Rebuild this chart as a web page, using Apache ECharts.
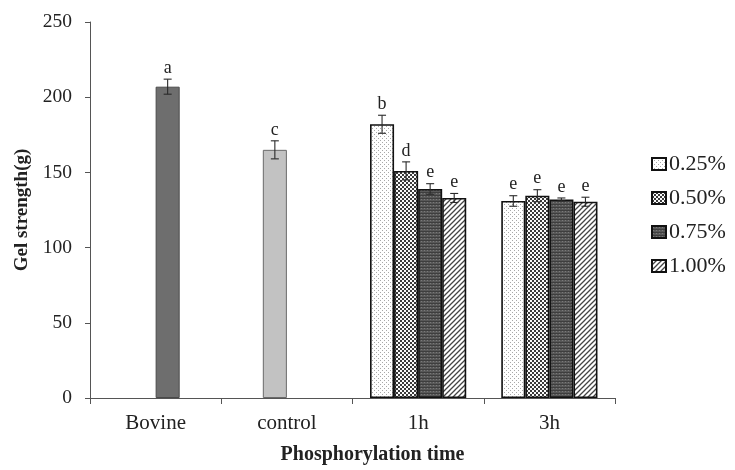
<!DOCTYPE html>
<html>
<head>
<meta charset="utf-8">
<script src="https://cdn.jsdelivr.net/npm/echarts@6/dist/echarts.min.js"></script>
<style>
  html, body { margin: 0; padding: 0; background: #fff; }
  #chart { width: 735px; height: 470px; }
</style>
</head>
<body>
<div id="chart"></div>
<script>
// Gel strength by phosphorylation time and phosphate concentration
const categories = ['Bovine', 'control', '1h', '3h'];
const seriesNames = ['0.25%', '0.50%', '0.75%', '1.00%'];

// mean gel strength (g) per concentration, one entry per category
const values025 = [null, null, 182, 131];
const values050 = [null, 165, 151, 134.5];
const values075 = [207, null, 139, 132];
const values100 = [null, null, 133, 130.5];

// standard deviations
const errors025 = [null, null, 6, 3.5];
const errors050 = [null, 6, 6, 4];
const errors075 = [5, null, 3.5, 1];
const errors100 = [null, null, 3, 3];

// significance letters
const letters025 = [null, null, 'b', 'e'];
const letters050 = [null, 'c', 'd', 'e'];
const letters075 = ['a', null, 'e', 'e'];
const letters100 = [null, null, 'e', 'e'];

const allValues = [values025, values050, values075, values100];
const allErrors = [errors025, errors050, errors075, errors100];
const allLetters = [letters025, letters050, letters075, letters100];

const SERIF = '"Liberation Serif", "Times New Roman", serif';
const CAT_GAP = 0.267;

// small repeating fill tiles
function tile(w, h, draw) {
  const c = document.createElement('canvas');
  c.width = w; c.height = h;
  draw(c.getContext('2d'));
  return { image: c, repeat: 'repeat' };
}
const fills = [
  tile(4, 4, g => {           // sparse dots
    g.fillStyle = '#fff'; g.fillRect(0, 0, 4, 4);
    g.fillStyle = '#a8a8a8'; g.fillRect(0, 0, 1, 1); g.fillRect(2, 2, 1, 1);
  }),
  tile(4, 4, g => {           // checker mesh
    g.fillStyle = '#fafafa'; g.fillRect(0, 0, 4, 4);
    g.fillStyle = '#3a3a3a'; g.fillRect(0, 0, 2, 2); g.fillRect(2, 2, 2, 2);
  }),
  tile(3, 3, g => {           // dark dotted
    g.fillStyle = '#585858'; g.fillRect(0, 0, 3, 3);
    g.fillStyle = '#3e3e3e'; g.fillRect(0, 0, 3, 1);
    g.fillStyle = '#7a7a7a'; g.fillRect(1, 1, 1, 1);
  }),
  tile(5, 5, g => {           // forward diagonal stripes
    g.fillStyle = '#fff'; g.fillRect(0, 0, 5, 5);
    g.strokeStyle = '#444'; g.lineWidth = 1.3;
    g.beginPath();
    g.moveTo(-1, 6); g.lineTo(6, -1);
    g.moveTo(-1, 1); g.lineTo(1, -1);
    g.moveTo(4, 6); g.lineTo(6, 4);
    g.stroke();
  })
];

// single-sample bars drawn in plain grey
const plainStyles = {
  '2-0': { color: '#6e6e6e', borderColor: '#4a4a4a', borderWidth: 1 },
  '1-1': { color: '#c2c2c2', borderColor: '#6a6a6a', borderWidth: 1 }
};

const barSeries = seriesNames.map((name, i) => ({
  name: name,
  type: 'bar',
  barGap: '0%',
  barCategoryGap: (CAT_GAP * 100) + '%',
  itemStyle: { color: fills[i], borderColor: '#111', borderWidth: 1.6 },
  data: allValues[i].map((v, k) => {
    const st = plainStyles[i + '-' + k];
    return st ? { value: v, itemStyle: st } : v;
  }),
  z: 2
}));

function errorSeries(i) {
  const pts = [];
  const lets = [];
  allValues[i].forEach((v, k) => {
    if (v !== null) { pts.push([k, v, allErrors[i][k]]); lets.push(allLetters[i][k]); }
  });
  return {
    type: 'custom',
    z: 5,
    silent: true,
    data: pts,
    renderItem: function (params, api) {
      const cat = api.value(0), val = api.value(1), err = api.value(2);
      const band = api.size([1, 0])[0];
      const total = band * (1 - CAT_GAP);
      const bw = total / 4;
      const off = -total / 2 + bw * (i + 0.5);
      const hi = api.coord([cat, val + err]);
      const lo = api.coord([cat, val - err]);
      const x = hi[0] + off;
      const cap = 4;
      const ls = { stroke: '#2a2a2a', lineWidth: 1.1 };
      return {
        type: 'group',
        children: [
          { type: 'line', shape: { x1: x, y1: hi[1], x2: x, y2: lo[1] }, style: ls },
          { type: 'line', shape: { x1: x - cap, y1: hi[1], x2: x + cap, y2: hi[1] }, style: ls },
          { type: 'line', shape: { x1: x - cap, y1: lo[1], x2: x + cap, y2: lo[1] }, style: ls },
          { type: 'text', style: {
              x: x, y: hi[1] - 2, text: lets[params.dataIndex],
              textAlign: 'center', textVerticalAlign: 'bottom',
              font: '18px ' + SERIF, fill: '#222' } }
        ]
      };
    }
  };
}

const chart = echarts.init(document.getElementById('chart'), null, { renderer: 'canvas' });
chart.setOption({
  backgroundColor: '#fff',
  animation: false,
  grid: { left: 90, right: 120, top: 22, bottom: 66 },
  legend: {
    data: seriesNames,
    orient: 'vertical',
    left: 646, top: 148,
    icon: 'rect',
    itemWidth: 14, itemHeight: 12,
    itemGap: 12,
    textStyle: { fontFamily: SERIF, fontSize: 22, color: '#222', padding: [0, 0, 0, -2] }
  },
  xAxis: {
    type: 'category',
    data: categories,
    axisLine: { lineStyle: { color: '#555', width: 1 } },
    axisTick: { show: true, length: 6, lineStyle: { color: '#555' } },
    axisLabel: { fontFamily: SERIF, fontSize: 21, color: '#222', margin: 15 },
    name: 'Phosphorylation time',
    nameLocation: 'middle',
    nameGap: 47,
    nameTextStyle: { fontFamily: SERIF, fontSize: 20, fontWeight: 'bold', color: '#222', padding: [0, 0, 0, 40] }
  },
  yAxis: {
    type: 'value',
    min: 0, max: 250, interval: 50,
    axisLine: { show: true, lineStyle: { color: '#555', width: 1 } },
    axisTick: { show: true, length: 5, lineStyle: { color: '#555' } },
    splitLine: { show: false },
    axisLabel: { fontFamily: SERIF, fontSize: 19.5, color: '#222', margin: 18 },
    name: 'Gel strength(g)',
    nameLocation: 'middle',
    nameGap: 57,
    nameTextStyle: { fontFamily: SERIF, fontSize: 19, fontWeight: 'bold', color: '#222' }
  },
  series: barSeries.concat([0, 1, 2, 3].map(errorSeries))
});
</script>
</body>
</html>
